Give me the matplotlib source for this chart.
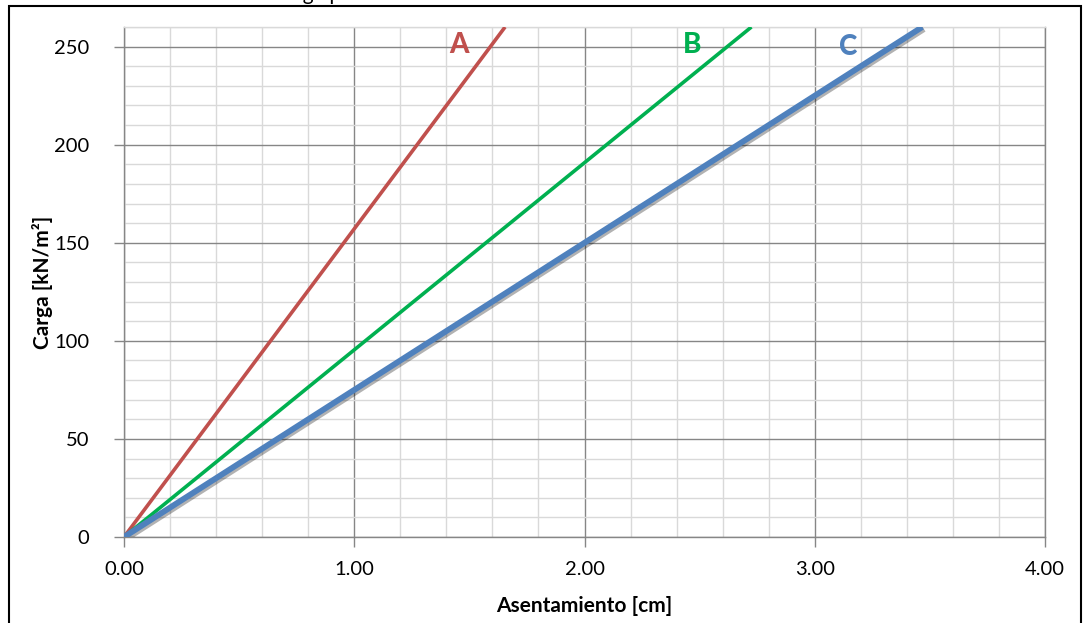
import matplotlib
matplotlib.use("Agg")
import matplotlib.pyplot as plt
import matplotlib.patheffects as pe
from matplotlib.ticker import MultipleLocator, FormatStrFormatter
from matplotlib.patches import Rectangle

# Data (settlement in cm, load in kN/m2)
series_names = ["A", "B", "C"]
x_A = [0.0, 1.655]
y_A = [0.0, 260.0]
x_B = [0.0, 2.725]
y_B = [0.0, 260.0]
x_C = [0.0, 3.467]
y_C = [0.0, 260.0]
label_pos_x = [1.455, 2.467, 3.145]
label_pos_y = [251.0, 251.0, 250.0]

colors = ["#C0504D", "#00B050", "#4F81BD"]
FONT = ["Lato", "DejaVu Sans"]
plt.rcParams['font.family'] = FONT

fig = plt.figure(figsize=(10.84, 6.23), dpi=100)
ax = fig.add_axes([124/1084, (623-537)/623, (1045-124)/1084, (537-27)/623])

ax.set_xlim(0, 4)
ax.set_ylim(0, 260)

ax.xaxis.set_major_locator(MultipleLocator(1))
ax.xaxis.set_minor_locator(MultipleLocator(0.2))
ax.yaxis.set_major_locator(MultipleLocator(50))
ax.yaxis.set_minor_locator(MultipleLocator(10))
ax.xaxis.set_major_formatter(FormatStrFormatter("%.2f"))

ax.grid(which='minor', color='#D9D9D9', lw=1.0, zorder=0)
ax.grid(which='major', color='#868686', lw=1.0, zorder=0.5)
ax.set_axisbelow(True)

for s in ['left', 'bottom', 'right']:
    ax.spines[s].set_color('#868686')
    ax.spines[s].set_linewidth(1.0)
ax.spines['top'].set_color('#D9D9D9')
ax.spines['top'].set_linewidth(1.0)

ax.tick_params(which='major', direction='out', length=7, width=1, color='#868686',
               labelsize=14.5, labelcolor='#000000')
ax.tick_params(axis='x', which='major', pad=10)
ax.tick_params(axis='y', which='major', pad=18)
ax.tick_params(which='minor', length=0)

ax.plot(x_A, y_A, color=colors[0], lw=2.6, solid_capstyle='butt', zorder=3)
ax.plot(x_B, y_B, color=colors[1], lw=2.6, solid_capstyle='butt', zorder=3)
ax.plot(x_C, y_C, color=colors[2], lw=4.2, solid_capstyle='butt', zorder=3,
        path_effects=[pe.SimpleLineShadow(offset=(1.2, -1.5), shadow_color='black', alpha=0.3),
                      pe.Normal()])

for name, lx, ly, c in zip(series_names, label_pos_x, label_pos_y, colors):
    ax.text(lx, ly, name, color=c, fontsize=20, fontweight='black', ha='center', va='center', zorder=4)

ax.set_xlabel("Asentamiento [cm]", fontsize=15, fontweight='bold')
ax.set_ylabel("Carga [kN/m²]", fontsize=15, fontweight='bold')
ax.xaxis.set_label_coords(0.5, -(596 - 537) / 510)
ax.yaxis.set_label_coords((53 - 124) / 921, 0.5)

# Figure border
fig.patches.append(Rectangle((8.5/1084, -0.05), (1081-8.5)/1084, 1.05 - 5.5/623, transform=fig.transFigure,
                             fill=False, edgecolor='black', lw=1.5, clip_on=False))
# cut-off title at the top (as in the reference, only its lower edge is visible)
fig.text(215/1084, 1 + 0.5/623, "Curva carga presión", fontsize=15,
         ha='left', va='baseline')

fig.savefig("out.png", dpi=100)
